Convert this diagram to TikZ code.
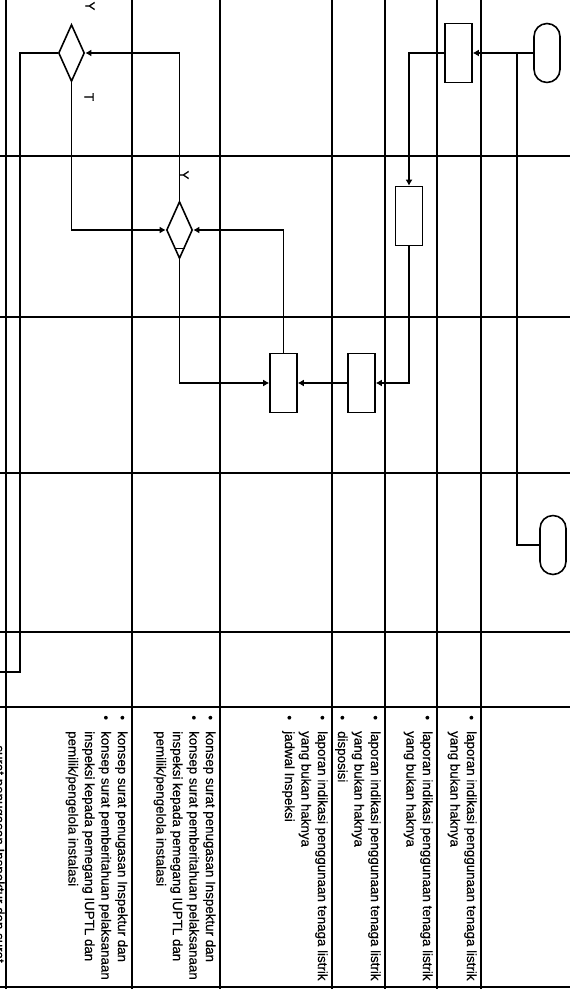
\documentclass[tikz,border=0pt]{standalone}
\usepackage{fontspec}
\setmainfont{Liberation Sans}
\newfontfamily\scanface[FakeBold=0.3]{Liberation Sans}
\usepackage{tikz}
\usetikzlibrary{positioning,arrows.meta,shapes.geometric}
\newcommand{\docfont}{\scanface\fontsize{7.6}{9.4}\selectfont}
\newcommand{\bul}{\makebox[9pt][l]{\textbullet}}
\newcommand{\cnt}{\hspace*{9pt}}
\tikzset{
  box/.style={draw, line width=0.9pt, fill=white, minimum width=0.54cm, minimum height=1.18cm, inner sep=0pt},
  term/.style={draw, line width=0.9pt, fill=white, rounded corners=0.26cm, minimum width=0.52cm, minimum height=1.18cm, inner sep=0pt},
  dec/.style={draw, diamond, line width=0.9pt, fill=white, minimum width=0.52cm, minimum height=1.14cm, inner sep=0pt},
  flow/.style={-{Latex[length=1.2mm,width=1.4mm]}, line width=1pt},
  link/.style={line width=1pt},
  lane/.style={line width=0.6pt},
  doc/.style={rotate=-90, anchor=north west, inner sep=0pt, align=left, font=\docfont},
  lbl/.style={rotate=-90, inner sep=0pt, font=\docfont}
}

\begin{document}
\begin{tikzpicture}[x=0.02cm, y=-0.02cm]
    \useasboundingbox (0,0) rectangle (570,996);
    \foreach \gx in {6,132,220,332,385,437,481}
      \draw[lane] (\gx,0) -- (\gx,989);
    \foreach \gy in {156,317,473,632,707,987}
      \draw[lane] (0,\gy) -- (570,\gy);

    \node[term] (start) at (547,53) {};
    \node[term] (stop) at (553,545) {};
    \node[box] (terima) at (458.5,53) {};
    \node[box] (disposisi) at (409,216) {};
    \node[box] (jadwal) at (361.5,383) {};
    \node[box] (konsep) at (283.5,383) {};
    \node[dec] (periksa) at (179.5,230) {};
    \node[dec] (setuju) at (71.5,53) {};
    \coordinate (split) at (517,53);
    \coordinate (bend) at (20,672);
    \coordinate (keluar) at (0,672);

    \draw[flow] (start) -- (terima);
    \draw[link] (stop.west) -| (split);
    \draw[flow] (terima.west) -| (disposisi.north);
    \draw[flow] (disposisi.south) |- (jadwal.east);
    \draw[flow] (jadwal) -- (konsep);
    \draw[flow] (konsep.north) |- (periksa.east);
    \draw[flow] (periksa.south) |- (konsep.west);
    \draw[flow] (periksa.north) |- (setuju.east);
    \draw[flow] (setuju.south) |- (periksa.west);
    \draw[link] (setuju.west) -| (bend) -- (keluar);
    \draw[lane] (periksa.south) ++(-5,-11) -- ++(10,0);

    \node[lbl] (ya1) at (90,6) {Y};
    \node[lbl] (tidak) at (89,97) {T};
    \node[lbl] (ya2) at (184,175) {Y};

    \node[doc] (out1) at (477,715) {\bul laporan indikasi penggunaan tenaga listrik\\ \cnt yang bukan haknya};
    \node[doc] (out2) at (433,715) {\bul laporan indikasi penggunaan tenaga listrik\\ \cnt yang bukan haknya};
    \node[doc] (out3) at (381,715) {\bul laporan indikasi penggunaan tenaga listrik\\ \cnt yang bukan haknya\\ \bul disposisi};
    \node[doc] (out4) at (328,715) {\bul laporan indikasi penggunaan tenaga listrik\\ \cnt yang bukan haknya\\ \bul jadwal Inspeksi};
    \node[doc] (out5) at (216,715) {\bul konsep surat penugasan Inspektur dan\\ \bul konsep surat pemberitahuan pelaksanaan\\ \cnt inspeksi kepada pemegang IUPTL dan\\ \cnt pemilik/pengelola instalasi};
    \node[doc] (out6) at (128,715) {\bul konsep surat penugasan Inspektur dan\\ \bul konsep surat pemberitahuan pelaksanaan\\ \cnt inspeksi kepada pemegang IUPTL dan\\ \cnt pemilik/pengelola instalasi};
    \node[doc] (out7) at (5,745) {surat penugasan Inspektur dan surat};
  \end{tikzpicture}
\end{document}
